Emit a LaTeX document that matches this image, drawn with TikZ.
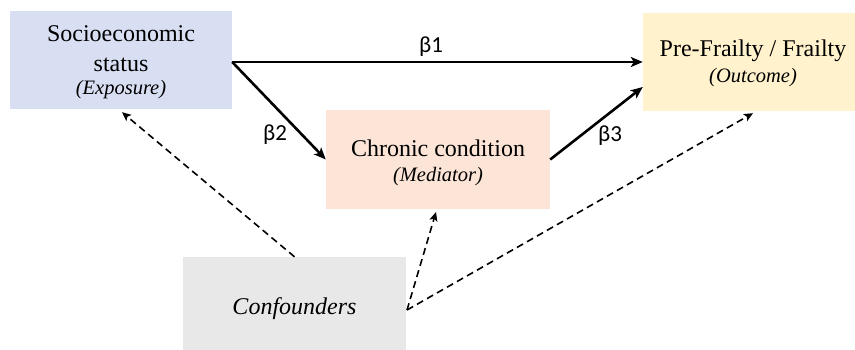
\documentclass[tikz,border=0pt]{standalone}
\usepackage{fontspec}
\setmainfont{Liberation Serif}
\newfontfamily\betafont{Carlito}
\usetikzlibrary{arrows.meta,calc}
\definecolor{sesfill}{HTML}{D8DFF2}
\definecolor{outfill}{HTML}{FFF2CC}
\definecolor{medfill}{HTML}{FCE4D6}
\definecolor{conffill}{HTML}{E8E8E8}
\tikzset{
  boxnode/.style={draw=none, inner sep=0pt, rectangle},
  maintxt/.style={anchor=base, inner sep=0pt, font=\fontsize{24}{28}\selectfont},
  subtxt/.style={anchor=base, inner sep=0pt, font=\fontsize{20.5}{24}\selectfont\itshape},
  betatxt/.style={anchor=base, inner sep=0pt, font=\betafont\fontsize{23}{27}\selectfont},
  solidarrow/.style={line width=2.6pt, -{Stealth[length=12pt,width=10pt,inset=3pt]}},
  dasharrow/.style={line width=1.6pt, dash pattern=on 7pt off 4.5pt, -{Stealth[length=9pt,width=8pt,inset=2pt]}}
}
\begin{document}
\begin{tikzpicture}[x=1pt,y=-1pt]
\useasboundingbox (0,0) rectangle (855,350);
\clip (0,0) rectangle (855,350);
% boxes
\node[boxnode, fill=sesfill, minimum width=222pt, minimum height=98pt] (ses) at (121,60) {};
\node[boxnode, fill=outfill, minimum width=220pt, minimum height=98pt] (out) at (753,62) {};
\node[boxnode, fill=medfill, minimum width=224pt, minimum height=99pt] (med) at (438,159.5) {};
\node[boxnode, fill=conffill, minimum width=223pt, minimum height=96pt] (conf) at (294.5,305) {};
% texts
\node[maintxt] (sesA) at (121,42) {Socioeconomic};
\node[maintxt] (sesB) at (121,72) {status};
\node[subtxt] (sesC) at (121,95) {(Exposure)};
\node[maintxt] (outA) at (753,57) {Pre-Frailty / Frailty};
\node[subtxt] (outB) at (753,83) {(Outcome)};
\node[maintxt] (medA) at (438,157) {Chronic condition};
\node[subtxt] (medB) at (438,182) {(Mediator)};
\node[maintxt, font=\fontsize{24}{28}\selectfont\itshape] (confA) at (294.5,314) {Confounders};
% beta labels
\node[betatxt] (b1) at (431,53) {β1};
\node[betatxt] (b2) at (275,141) {β2};
\node[betatxt] (b3) at (610,142) {β3};
% coordinates
\coordinate (sesout) at (ses.east |- out.west);
\coordinate (outin) at ($(out.west)+(0,25)$);
\coordinate (cf) at (407,310);
\coordinate (sestip) at ($(ses.south)+(1,3)$);
\coordinate (medtip) at (436,212);
\coordinate (outtip) at ($(out.south)+(0,2)$);
% solid arrows
\draw[solidarrow] (sesout) -- (out.west);
\draw[solidarrow] (sesout) -- (med.west);
\draw[solidarrow] (med.east) -- (outin);
% dashed arrows
\draw[dasharrow] (conf.north) -- (sestip);
\draw[dasharrow] (cf) -- (medtip);
\draw[dasharrow] (cf) -- (outtip);
\end{tikzpicture}
\end{document}
